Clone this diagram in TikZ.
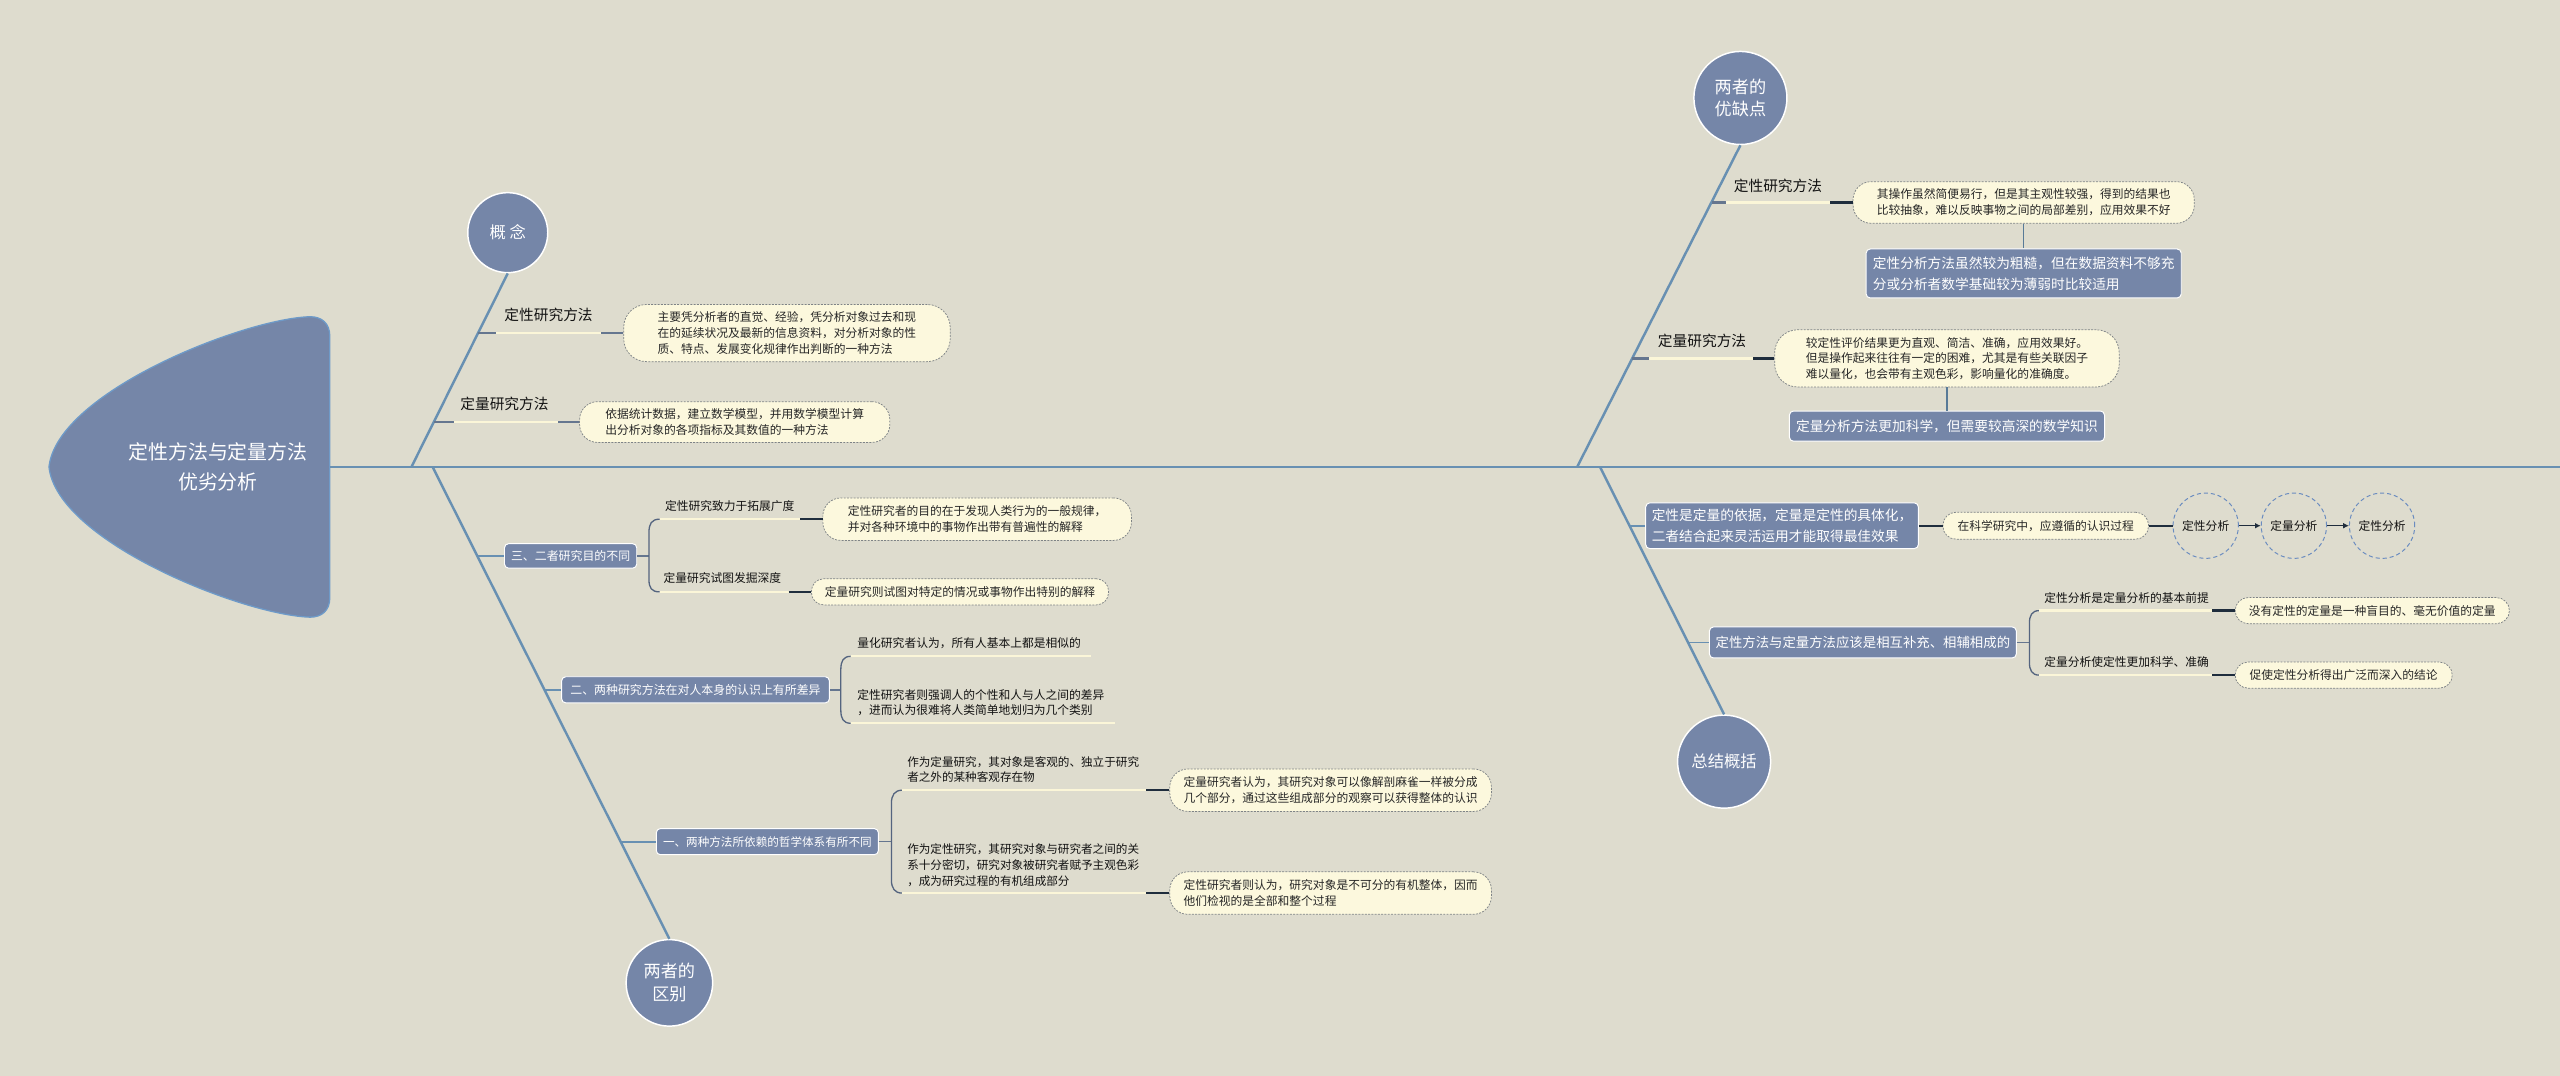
\documentclass[tikz,border=0pt]{standalone}
\usepackage{fontspec}
\setmainfont{Noto Sans CJK SC}
\usetikzlibrary{arrows.meta}
\definecolor{bg}{HTML}{DEDCCE}
\definecolor{nodefill}{HTML}{7586A8}
\definecolor{spinecol}{HTML}{6890B2}
\definecolor{creamfill}{HTML}{FCF8DD}
\definecolor{creamline}{HTML}{FBF6D8}
\definecolor{bubborder}{HTML}{7E8386}
\definecolor{darkstub}{HTML}{1F2D3D}
\definecolor{slatestub}{HTML}{65768F}
\definecolor{bracecol}{HTML}{54647F}
\definecolor{rootborder}{HTML}{6E9AC8}
\definecolor{dashcirc}{HTML}{6A8CC0}
\definecolor{labtext}{HTML}{121212}
\definecolor{bubtext}{HTML}{262626}
\newcommand\szBub{\fontsize{7.2}{9.6}\selectfont}
\newcommand\szLab{\fontsize{9}{11}\selectfont}
\newcommand\szDark{\fontsize{8.4}{13}\selectfont}
\newcommand\szDarkS{\fontsize{7.3}{9}\selectfont}
\newcommand\szCirc{\fontsize{10.5}{14}\selectfont}
\newcommand\szRoot{\fontsize{12.2}{18}\selectfont}
\begin{document}
\begin{tikzpicture}[x=1pt,y=-1pt,
  circnode/.style={circle, fill=nodefill, draw=white, line width=0.9pt, text=white, align=center, inner sep=0pt, minimum size=#1, font=\szCirc},
  darkbox/.style={rectangle, rounded corners=2.5pt, fill=nodefill, draw=white, line width=0.6pt, text=white, align=left, inner sep=0pt},
  bubble/.style={rectangle, rounded corners=#1, fill=creamfill, draw=bubborder, line width=0.45pt, dash pattern=on 1.2pt off 0.8pt, text=bubtext, align=left, inner sep=0pt, font=\szBub},
  lab/.style={text=labtext, inner sep=0pt, align=left},
  spine/.style={draw=spinecol, line width=1.5pt},
  stubline/.style={draw=spinecol, line width=1.1pt},
  slatel/.style={draw=slatestub, line width=1.4pt},
  creaml/.style={draw=creamline, line width=1.4pt},
  darkl/.style={draw=darkstub, line width=1.4pt},
  bracel/.style={draw=bracecol, line width=0.8pt},
  vconn/.style={draw=spinecol!85!black, line width=0.9pt},
  dcirc/.style={circle, draw=dashcirc, dash pattern=on 2.5pt off 1.8pt, line width=0.6pt, minimum size=40pt, inner sep=0pt, font=\szBub, text=labtext},
  arr/.style={draw=darkstub, line width=0.9pt, -{Latex[length=3.5pt,width=3.5pt]}}
]
\useasboundingbox (0,0) rectangle (1568,659);
\fill[bg] (0,0) rectangle (1568,659);

% ---------- root ----------
\filldraw[fill=nodefill, draw=rootborder, line width=0.8pt]
  (190,194) .. controls (150,195) and (35,240) .. (30,286)
  .. controls (35,332) and (150,377) .. (190,378)
  .. controls (197,378) and (202,374) .. (202,366) -- (202,206)
  .. controls (202,198) and (197,194) .. (190,194) -- cycle;
\node[text=white, align=center, font=\szRoot] (root) at (133.5,286) {定性方法与定量方法\\优劣分析};
\coordinate (rootE) at (202,286);
\coordinate (spineEnd) at (1568,286);
\coordinate (jA) at (252,286);
\coordinate (jB) at (265,286);
\coordinate (jC) at (966,286);
\coordinate (jD) at (980,286);

% ---------- circles ----------
\node[circnode=49pt, font=\fontsize{10}{13}\selectfont] (cA) at (311,142.5) {概 念};
\node[circnode=53pt] (cB) at (410,602) {两者的\\区别};
\node[circnode=57pt] (cC) at (1066,60) {两者的\\优缺点};
\node[circnode=57pt, font=\fontsize{10}{13}\selectfont] (cD) at (1056,466.5) {总结概括};

% ---------- spine and diagonals ----------
\draw[spine] (rootE) -- (spineEnd);
\draw[spine] (jA) -- (cA.south);
\draw[spine] (jB) -- (cB.north);
\draw[spine] (jC) -- (cC.south);
\draw[spine] (jD) -- (cD.north);

% ---------- branch A : concept ----------
\node[lab, font=\szLab] (lA1) at (336,193) {定性研究方法};
\node[bubble=14pt, minimum width=200pt, minimum height=35pt] (bA1) at (482,204)
  {主要凭分析者的直觉、经验，凭分析对象过去和现\\在的延续状况及最新的信息资料，对分析对象的性\\质、特点、发展变化规律作出判断的一种方法};
\coordinate (a1) at (292.8,204);
\coordinate (a1u) at (304,204);
\coordinate (a1v) at (368,204);
\draw[slatel] (a1) -- (a1u);
\draw[creaml] (a1u) -- (a1v);
\draw[slatel] (a1v) -- (bA1.west);

\node[lab, font=\szLab] (lA2) at (309,247.5) {定量研究方法};
\node[bubble=11pt, minimum width=190pt, minimum height=25pt] (bA2) at (450,258.5)
  {依据统计数据，建立数学模型，并用数学模型计算\\出分析对象的各项指标及其数值的一种方法};
\coordinate (a2) at (265.7,258.5);
\coordinate (a2u) at (278,258.5);
\coordinate (a2v) at (342,258.5);
\draw[slatel] (a2) -- (a2u);
\draw[creaml] (a2u) -- (a2v);
\draw[slatel] (a2v) -- (bA2.west);

% ---------- branch B : differences ----------
% B3
\node[darkbox, font=\szDarkS, minimum width=81pt, minimum height=15pt] (dB3) at (349.5,340.5) {三、二者研究目的不同};
\coordinate (b3) at (292.3,340.5);
\draw[stubline] (b3) -- (dB3.west);
\coordinate (b3k) at (397.5,340.5);
\draw[slatel, line width=0.9pt] (dB3.east) -- (b3k);
\coordinate (b3t) at (404,318);
\coordinate (b3b) at (404,362.5);
\draw[bracel] (b3t) .. controls (399,318) and (397.5,321) .. (397.5,326) -- (397.5,355) .. controls (397.5,360) and (399,362.5) .. (b3b);
\node[lab, font=\szBub] (lB31) at (447,310) {定性研究致力于拓展广度};
\node[bubble=11pt, minimum width=189pt, minimum height=26pt] (bB31) at (598.5,318)
  {定性研究者的目的在于发现人类行为的一般规律，\\并对各种环境中的事物作出带有普遍性的解释};
\coordinate (b31v) at (490,318);
\draw[creaml] (b3t) -- (b31v);
\draw[darkl] (b31v) -- (bB31.west);
\node[lab, font=\szBub] (lB32) at (442.5,354) {定量研究试图发掘深度};
\node[bubble=7.5pt, minimum width=182pt, minimum height=16pt] (bB32) at (588,362.5)
  {定量研究则试图对特定的情况或事物作出特别的解释};
\coordinate (b32v) at (483,362.5);
\draw[creaml] (b3b) -- (b32v);
\draw[darkl] (b32v) -- (bB32.west);

% B2
\node[darkbox, font=\szDarkS, minimum width=164pt, minimum height=16pt] (dB2) at (426,422.5) {二、两种研究方法在对人本身的认识上有所差异};
\coordinate (b2) at (333.4,422.5);
\draw[stubline] (b2) -- (dB2.west);
\coordinate (b2k) at (515,422.5);
\draw[slatel, line width=0.9pt] (dB2.east) -- (b2k);
\coordinate (b2t) at (521,402);
\coordinate (b2b) at (521,443);
\draw[bracel] (b2t) .. controls (516.5,402) and (515,405) .. (515,410) -- (515,435) .. controls (515,440) and (516.5,443) .. (b2b);
\node[lab, font=\szBub, anchor=west] (lB21) at (525,394) {量化研究者认为，所有人基本上都是相似的};
\coordinate (b21v) at (668,402);
\draw[creaml] (b2t) -- (b21v);
\node[lab, font=\fontsize{7.2}{9.2}\selectfont, anchor=west] (lB22) at (525,430.5) {定性研究者则强调人的个性和人与人之间的差异\\，进而认为很难将人类简单地划归为几个类别};
\coordinate (b22v) at (683,443);
\draw[creaml] (b2b) -- (b22v);

% B1
\node[darkbox, font=\fontsize{7.1}{9}\selectfont, minimum width=136pt, minimum height=16pt] (dB1) at (470,515.5) {一、两种方法所依赖的哲学体系有所不同};
\coordinate (b1) at (380,515.5);
\draw[stubline] (b1) -- (dB1.west);
\coordinate (b1k) at (546,515.5);
\draw[slatel, line width=0.9pt] (dB1.east) -- (b1k);
\coordinate (b1t) at (552.5,484);
\coordinate (b1b) at (552.5,547);
\draw[bracel] (b1t) .. controls (548,484) and (546,487) .. (546,492) -- (546,539) .. controls (546,544) and (548,547) .. (b1b);
\node[lab, font=\fontsize{7.1}{9.4}\selectfont, anchor=west] (lB11) at (555.5,471.5) {作为定量研究，其对象是客观的、独立于研究\\者之外的某种客观存在物};
\node[bubble=11pt, minimum width=197pt, minimum height=26pt] (bB11) at (815,484)
  {定量研究者认为，其研究对象可以像解剖麻雀一样被分成\\几个部分，通过这些组成部分的观察可以获得整体的认识};
\coordinate (b11v) at (702,484);
\draw[creaml] (b1t) -- (b11v);
\draw[darkl] (b11v) -- (bB11.west);
\node[lab, font=\fontsize{7.1}{10}\selectfont, anchor=west] (lB12) at (555.5,530) {作为定性研究，其研究对象与研究者之间的关\\系十分密切，研究对象被研究者赋予主观色彩\\，成为研究过程的有机组成部分};
\node[bubble=11pt, minimum width=197pt, minimum height=26pt] (bB12) at (815,547)
  {定性研究者则认为，研究对象是不可分的有机整体，因而\\他们检视的是全部和整个过程};
\coordinate (b12v) at (702,547);
\draw[creaml] (b1b) -- (b12v);
\draw[darkl] (b12v) -- (bB12.west);

% ---------- branch C : pros and cons ----------
\node[lab, font=\szLab] (lC1) at (1089,114) {定性研究方法};
\node[bubble=11pt, minimum width=209pt, minimum height=25.5pt] (bC1) at (1239.5,124)
  {其操作虽然简便易行，但是其主观性较强，得到的结果也\\比较抽象，难以反映事物之间的局部差别，应用效果不好};
\coordinate (c1) at (1048.5,124);
\coordinate (c1u) at (1057,124);
\coordinate (c1v) at (1121,124);
\draw[slatel] (c1) -- (c1u);
\draw[creaml] (c1u) -- (c1v);
\draw[darkl] (c1v) -- (bC1.west);
\node[darkbox, font=\szDark, minimum width=193pt, minimum height=30pt] (dC1) at (1239.5,167.5)
  {定性分析方法虽然较为粗糙，但在数据资料不够充\\分或分析者数学基础较为薄弱时比较适用};
\draw[vconn] (bC1.south) -- (dC1.north);

\node[lab, font=\szLab] (lC2) at (1042.5,209) {定量研究方法};
\node[bubble=14pt, minimum width=211pt, minimum height=35pt] (bC2) at (1192.5,219.5)
  {较定性评价结果更为直观、简洁、准确，应用效果好。\\但是操作起来往往有一定的困难，尤其是有些关联因子\\难以量化，也会带有主观色彩，影响量化的准确度。};
\coordinate (c2) at (999.7,219.5);
\coordinate (c2u) at (1010,219.5);
\coordinate (c2v) at (1074,219.5);
\draw[slatel] (c2) -- (c2u);
\draw[creaml] (c2u) -- (c2v);
\draw[darkl] (c2v) -- (bC2.west);
\node[darkbox, font=\szDark, minimum width=193pt, minimum height=18.5pt] (dC2) at (1192.5,261)
  {定量分析方法更加科学，但需要较高深的数学知识};
\draw[vconn] (bC2.south) -- (dC2.north);

% ---------- branch D : summary ----------
\node[darkbox, font=\szDark, minimum width=167pt, minimum height=28pt] (dD1) at (1091.5,322)
  {定性是定量的依据，定量是定性的具体化，\\二者结合起来灵活运用才能取得最佳效果};
\coordinate (d1) at (998,322);
\draw[stubline] (d1) -- (dD1.west);
\node[bubble=8pt, minimum width=126pt, minimum height=16.5pt] (bD1) at (1253,322) {在科学研究中，应遵循的认识过程};
\draw[darkl] (dD1.east) -- (bD1.west);
\node[dcirc] (k1) at (1351,322) {定性分析};
\node[dcirc] (k2) at (1405,322) {定量分析};
\node[dcirc] (k3) at (1459,322) {定性分析};
\draw[darkl] (bD1.east) -- (k1.west);
\draw[arr] (k1.east) -- (k2.west);
\draw[arr] (k2.east) -- (k3.west);

\node[darkbox, font=\fontsize{8.2}{10}\selectfont, minimum width=188pt, minimum height=19pt] (dD2) at (1141,393.5)
  {定性方法与定量方法应该是相互补充、相辅相成的};
\coordinate (d2) at (1034,393.5);
\draw[stubline] (d2) -- (dD2.west);
\coordinate (d2k) at (1243,393.5);
\draw[slatel, line width=0.9pt] (dD2.east) -- (d2k);
\coordinate (d2t) at (1249,374);
\coordinate (d2b) at (1249,413.5);
\draw[bracel] (d2t) .. controls (1244.5,374) and (1243,377) .. (1243,382) -- (1243,405.5) .. controls (1243,410.5) and (1244.5,413.5) .. (d2b);
\node[lab, font=\szBub] (lD21) at (1302.5,366) {定性分析是定量分析的基本前提};
\node[bubble=8pt, minimum width=168pt, minimum height=16pt] (bD21) at (1453,374) {没有定性的定量是一种盲目的、毫无价值的定量};
\coordinate (d21v) at (1355,374);
\draw[creaml] (d2t) -- (d21v);
\draw[darkl] (d21v) -- (bD21.west);
\node[lab, font=\szBub] (lD22) at (1302.5,405.5) {定量分析使定性更加科学、准确};
\node[bubble=8pt, minimum width=133pt, minimum height=16pt] (bD22) at (1435.5,413.5) {促使定性分析得出广泛而深入的结论};
\coordinate (d22v) at (1355,413.5);
\draw[creaml] (d2b) -- (d22v);
\draw[darkl] (d22v) -- (bD22.west);
\end{tikzpicture}
\end{document}
